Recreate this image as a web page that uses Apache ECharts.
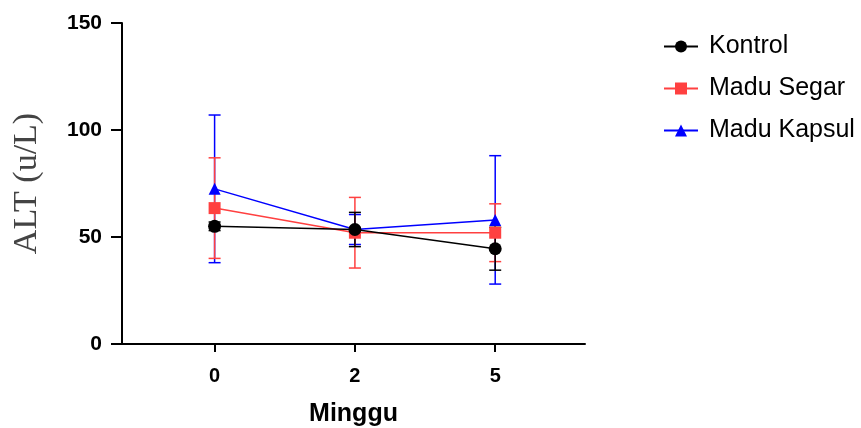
<!DOCTYPE html>
<html>
<head>
<meta charset="utf-8">
<script src="https://cdn.jsdelivr.net/npm/echarts@6/dist/echarts.min.js"></script>
<style>
  html, body {margin: 0; padding: 0; background: #fff;}
  #chart {width: 861px; height: 428px;}
</style>
</head>
<body>
<div id="chart"></div>
<script>
// weeks (x categories) and group means / SD
const weeks = ['0', '2', '5'];
const kontrolMean = [55, 53.5, 44.5];
const kontrolSd = [2, 8, 10];
const segarMean = [63.5, 52, 52];
const segarSd = [23.5, 16.5, 13.5];
const kapsulMean = [72.5, 53.5, 58];
const kapsulSd = [34.5, 7, 30];
const yTicks = [0, 50, 100, 150];

const groups = [
  {name: 'Madu Kapsul', mean: kapsulMean, sd: kapsulSd, color: '#0000ff', symbol: 'triangle', size: 12},
  {name: 'Madu Segar', mean: segarMean, sd: segarSd, color: '#ff4040', symbol: 'rect', size: 12},
  {name: 'Kontrol', mean: kontrolMean, sd: kontrolSd, color: '#000000', symbol: 'circle', size: 13}
];

const errorBar = (g) => ({
  type: 'custom',
  name: g.name + ' SD',
  z: 2,
  data: g.mean.map((m, i) => [i, m - g.sd[i], m + g.sd[i]]),
  encode: {x: 0, y: [1, 2]},
  renderItem: (params, api) => {
    const x = api.value(0);
    const lo = api.coord([x, api.value(1)]);
    const hi = api.coord([x, api.value(2)]);
    const half = 6;
    const style = {stroke: g.color, lineWidth: 1.5};
    return {
      type: 'group',
      children: [
        {type: 'line', shape: {x1: lo[0], y1: lo[1], x2: hi[0], y2: hi[1]}, style},
        {type: 'line', shape: {x1: lo[0] - half, y1: lo[1], x2: lo[0] + half, y2: lo[1]}, style},
        {type: 'line', shape: {x1: hi[0] - half, y1: hi[1], x2: hi[0] + half, y2: hi[1]}, style}
      ]
    };
  }
});

const lineSeries = (g) => ({
  type: 'line',
  name: g.name,
  z: 3,
  data: g.mean.map((m, i) => [i, m]),
  symbol: g.symbol,
  symbolSize: g.size,
  itemStyle: {color: g.color},
  lineStyle: {color: g.color, width: 1.5}
});

const series = [];
groups.forEach(g => {
  series.push(errorBar(g));
  series.push(lineSeries(g));
});

const chart = echarts.init(document.getElementById('chart'));
chart.setOption({
  animation: false,
  grid: {left: 122, right: 276, top: 23, bottom: 84, outerBoundsMode: 'none'},
  legend: {
    orient: 'vertical',
    left: 658,
    top: 29,
    itemWidth: 34,
    itemHeight: 15,
    itemGap: 17,
    data: ['Kontrol', 'Madu Segar', 'Madu Kapsul'],
    textStyle: {fontFamily: 'Liberation Sans, Arial, sans-serif', fontSize: 25, color: '#000', padding: [0, 0, 0, 6]}
  },
  xAxis: {
    type: 'value',
    min: -0.66,
    max: 2.64,
    name: 'Minggu',
    nameLocation: 'middle',
    nameGap: 58,
    nameTextStyle: {fontFamily: 'Liberation Sans, Arial, sans-serif', fontWeight: 'bold', fontSize: 25, color: '#000'},
    axisLine: {onZero: false, lineStyle: {color: '#000', width: 2}},
    axisTick: {show: true, customValues: [0, 1, 2], length: 8, lineStyle: {color: '#000', width: 2}},
    axisLabel: {
      customValues: [0, 1, 2],
      formatter: v => weeks[Math.round(v)],
      margin: 22,
      fontFamily: 'Liberation Sans, Arial, sans-serif',
      fontWeight: 'bold',
      fontSize: 20,
      color: '#000'
    },
    splitLine: {show: false}
  },
  yAxis: {
    type: 'value',
    min: yTicks[0],
    max: yTicks[yTicks.length - 1],
    interval: 50,
    name: 'ALT (u/L)',
    nameLocation: 'middle',
    nameGap: 78,
    nameTextStyle: {fontFamily: 'Liberation Serif, Times New Roman, serif', fontSize: 34, color: '#444'},
    axisLine: {show: true, onZero: false, lineStyle: {color: '#000', width: 2}},
    axisTick: {show: true, length: 11, lineStyle: {color: '#000', width: 2}},
    axisLabel: {
      margin: 20,
      fontFamily: 'Liberation Sans, Arial, sans-serif',
      fontWeight: 'bold',
      fontSize: 21,
      color: '#000'
    },
    splitLine: {show: false}
  },
  series
});
</script>
</body>
</html>
